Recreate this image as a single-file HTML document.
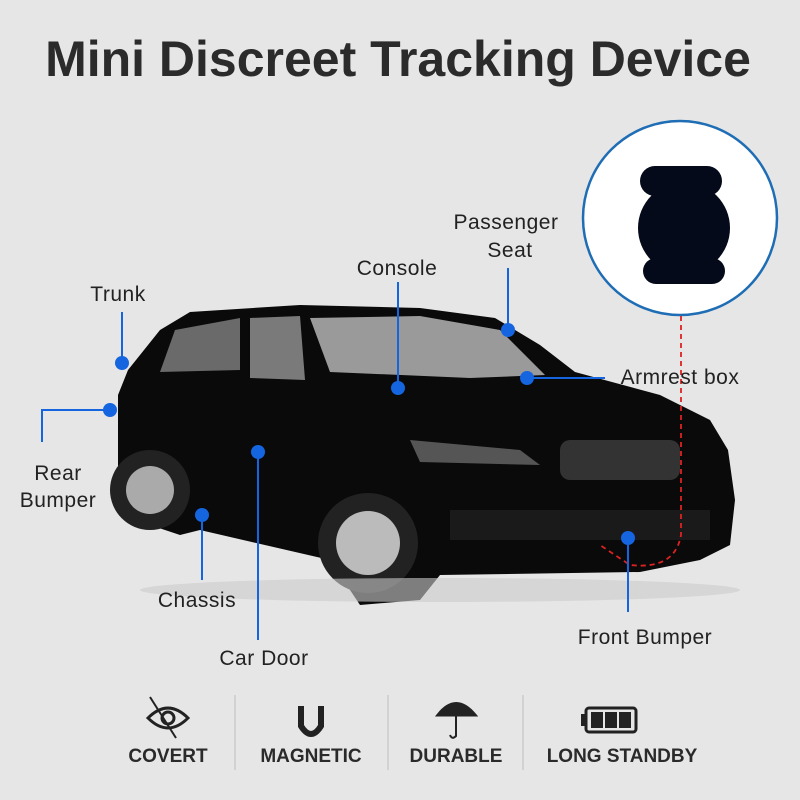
<!DOCTYPE html>
<html><head><style>
body{margin:0;width:800px;height:800px;background:#e6e6e6;overflow:hidden;font-family:"Liberation Sans",sans-serif;}
svg{position:absolute;left:0;top:0}
</style></head><body>
<svg width="800" height="800" viewBox="0 0 800 800">
<text x="398" y="76" text-anchor="middle" font-size="50" font-weight="bold" fill="#2b2b2b" font-family="Liberation Sans">Mini Discreet Tracking Device</text>
<!-- car -->
<path d="M118,395 L128,370 L160,330 L190,312 L300,305 L420,308 L495,318 L540,345 L575,372 L660,395 L710,420 L728,450 L735,500 L730,545 L700,560 L640,572 L440,575 L420,600 L360,605 L330,560 L200,530 L180,535 L135,520 L118,480 Z" fill="#0a0a0a"/>
<path d="M175,330 L240,318 L240,370 L160,372 Z" fill="#6a6a6a"/>
<path d="M250,318 L300,316 L305,380 L250,378 Z" fill="#7a7a7a"/>
<path d="M310,318 L420,316 L500,330 L545,375 L470,378 L330,372 Z" fill="#9a9a9a"/>
<path d="M410,440 L520,450 L540,465 L420,462 Z" fill="#555"/>
<rect x="560" y="440" width="120" height="40" rx="10" fill="#333"/>
<rect x="450" y="510" width="260" height="30" fill="#1a1a1a"/>
<circle cx="150" cy="490" r="40" fill="#222"/><circle cx="150" cy="490" r="24" fill="#aaa"/>
<circle cx="368" cy="543" r="50" fill="#222"/><circle cx="368" cy="543" r="32" fill="#bbb"/>
<ellipse cx="440" cy="590" rx="300" ry="12" fill="#ccc" opacity=".6"/>
<!-- circle -->
<circle cx="680" cy="218" r="97" fill="#fff" stroke="#1f6db5" stroke-width="2.5"/>
<circle cx="684" cy="228" r="46" fill="#050a1a"/>
<rect x="640" y="166" width="82" height="30" rx="15" fill="#050a1a"/>
<rect x="643" y="258" width="82" height="26" rx="13" fill="#050a1a"/>
<path d="M681,316 L681,535 Q675,570 630,565 L600,545" fill="none" stroke="#d22" stroke-width="1.8" stroke-dasharray="5,4"/>
<!-- connectors -->
<g stroke="#1565e0" stroke-width="2" fill="none">
<path d="M122,312 L122,362"/><path d="M42,442 L42,410 L108,410"/>
<path d="M202,515 L202,580"/><path d="M258,452 L258,640"/>
<path d="M398,282 L398,388"/><path d="M508,268 L508,330"/>
<path d="M527,378 L605,378"/><path d="M628,538 L628,612"/>
</g>
<g fill="#1565e0">
<circle cx="122" cy="363" r="7"/><circle cx="110" cy="410" r="7"/><circle cx="202" cy="515" r="7"/>
<circle cx="258" cy="452" r="7"/><circle cx="398" cy="388" r="7"/><circle cx="508" cy="330" r="7"/>
<circle cx="527" cy="378" r="7"/><circle cx="628" cy="538" r="7"/>
</g>
<g font-size="21" fill="#222" font-family="Liberation Sans" letter-spacing="0.5">
<text x="118" y="301" text-anchor="middle">Trunk</text>
<text x="58" y="480" text-anchor="middle">Rear</text>
<text x="58" y="507" text-anchor="middle">Bumper</text>
<text x="197" y="607" text-anchor="middle">Chassis</text>
<text x="264" y="665" text-anchor="middle">Car Door</text>
<text x="397" y="275" text-anchor="middle">Console</text>
<text x="506" y="229" text-anchor="middle">Passenger</text>
<text x="510" y="257" text-anchor="middle">Seat</text>
<text x="680" y="384" text-anchor="middle">Armrest box</text>
<text x="645" y="644" text-anchor="middle">Front Bumper</text>
</g>
<!-- bottom -->
<g stroke="#ccc" stroke-width="1.5"><line x1="235" y1="695" x2="235" y2="770"/><line x1="388" y1="695" x2="388" y2="770"/><line x1="523" y1="695" x2="523" y2="770"/></g>
<g font-size="19" font-weight="bold" fill="#2a2a2a" text-anchor="middle" font-family="Liberation Sans">
<text x="168" y="762">COVERT</text><text x="311" y="762">MAGNETIC</text><text x="456" y="762">DURABLE</text><text x="622" y="762">LONG STANDBY</text>
</g>
<g fill="none" stroke="#222" stroke-width="3">
<path d="M148,718 Q168,698 188,718 Q168,738 148,718Z"/><circle cx="168" cy="718" r="6"/><line x1="150" y1="697" x2="176" y2="738" stroke-width="2"/>
<path d="M301,706 L301,726 Q311,742 321,726 L321,706" stroke-width="6"/>
<path d="M438,715 Q456,692 475,715 Z" fill="#222"/><path d="M456,715 L456,736 Q452,740 450,735" stroke-width="2"/>
<rect x="586" y="708" width="50" height="24" rx="3"/>
</g>
<rect x="581" y="714" width="5" height="12" fill="#222"/>
<g fill="#222"><rect x="591" y="712" width="12" height="16"/><rect x="605" y="712" width="12" height="16"/><rect x="619" y="712" width="12" height="16"/></g>
</svg>
</body></html>
